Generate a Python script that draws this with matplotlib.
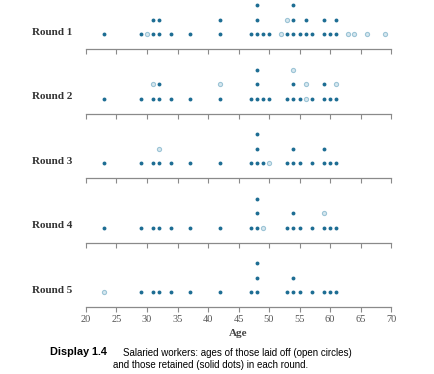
import numpy as np
import matplotlib
matplotlib.use("Agg")
import matplotlib.pyplot as plt
from collections import Counter

# ages of salaried workers at the start of each round, and those laid off in that round
round1_ages = [23, 29, 30, 31, 31, 32, 32, 34, 37, 42, 42, 47, 48, 48, 48, 49, 50,
               52, 53, 53, 54, 54, 54, 55, 56, 56, 57, 59, 59, 60, 61, 61, 63, 64, 66, 69]
round1_off = [30, 52, 53, 63, 64, 66, 69]

round2_ages = [23, 29, 31, 31, 32, 32, 34, 37, 42, 42, 47, 48, 48, 48, 49, 50,
               53, 54, 54, 54, 55, 56, 56, 57, 59, 59, 60, 61, 61]
round2_off = [31, 42, 54, 56, 56, 61]

round3_ages = [23, 29, 31, 32, 32, 34, 37, 42, 47, 48, 48, 48, 49, 50,
               53, 54, 54, 55, 57, 59, 59, 60, 61]
round3_off = [32, 50]

round4_ages = [23, 29, 31, 32, 34, 37, 42, 47, 48, 48, 48, 49,
               53, 54, 54, 55, 57, 59, 59, 60, 61]
round4_off = [49, 59]

round5_ages = [23, 29, 31, 32, 34, 37, 42, 47, 48, 48, 48,
               53, 54, 54, 55, 57, 59, 60, 61]
round5_off = [23]

rounds = ["Round 1", "Round 2", "Round 3", "Round 4", "Round 5"]
ages = [round1_ages, round2_ages, round3_ages, round4_ages, round5_ages]
laid_off = [round1_off, round2_off, round3_off, round4_off, round5_off]

solid = "#1d6d93"
light = "#9cc4d6"
axis_gray = "#8a8a8a"

W, H = 435, 374
fig = plt.figure(figsize=(W / 100, H / 100), dpi=100)

x0, x1 = 86, 391
axis_y = [49, 113.5, 178, 242.5, 307]
panel_h = 52
first_row = 15   # px above axis line
row_gap = 14.5   # px between stacked dots

for i, name in enumerate(rounds):
    ax = fig.add_axes([x0 / W, 1 - axis_y[i] / H, (x1 - x0) / W, panel_h / H])
    ax.set_xlim(20, 70)
    ax.set_ylim(-first_row / row_gap, (panel_h - first_row) / row_gap)

    # stack the dots; laid-off ones sit on top of each stack
    cnt = Counter(ages[i])
    off = Counter(laid_off[i])
    for age in sorted(cnt):
        n = cnt[age]
        k = off.get(age, 0)
        for lvl in range(n):
            if lvl >= n - k:
                ax.plot(age, lvl, "o", ms=3.0, mfc="#d6e7ef", mec=light, mew=0.8)
            else:
                ax.plot(age, lvl, "o", ms=2.8, color=solid, mew=0)

    for s in ["top", "right", "left"]:
        ax.spines[s].set_visible(False)
    ax.spines["bottom"].set_color(axis_gray)
    ax.spines["bottom"].set_linewidth(0.9)
    ax.set_yticks([])
    ax.set_xticks(np.arange(20, 71, 5))
    ax.tick_params(axis="x", direction="out", length=3.5, width=0.8, color=axis_gray,
                   labelsize=7.5, labelcolor="#555555", pad=2.5)
    if i < 4:
        ax.set_xticklabels([])
    else:
        for t in ax.get_xticklabels():
            t.set_family("Liberation Serif")
        ax.set_xlabel("Age", fontsize=8, family="Liberation Serif",
                      fontweight="bold", color="#444444", labelpad=3)
    ax.patch.set_alpha(0)

    ax.text(-0.045, first_row / panel_h + 0.03, name, transform=ax.transAxes,
            ha="right", va="center", fontsize=8, family="Liberation Serif",
            fontweight="bold", color="#333333")

fig.text(50 / W, 1 - 352 / H, "Display 1.4", fontsize=7.8, fontweight="bold",
         family="Liberation Sans", ha="left", va="center")
fig.text(123 / W, 1 - 353 / H,
         "Salaried workers: ages of those laid off (open circles)",
         fontsize=7, family="Liberation Sans", ha="left", va="center")
fig.text(113 / W, 1 - 365 / H,
         "and those retained (solid dots) in each round.",
         fontsize=7, family="Liberation Sans", ha="left", va="center")

fig.savefig("out.png", dpi=100)
